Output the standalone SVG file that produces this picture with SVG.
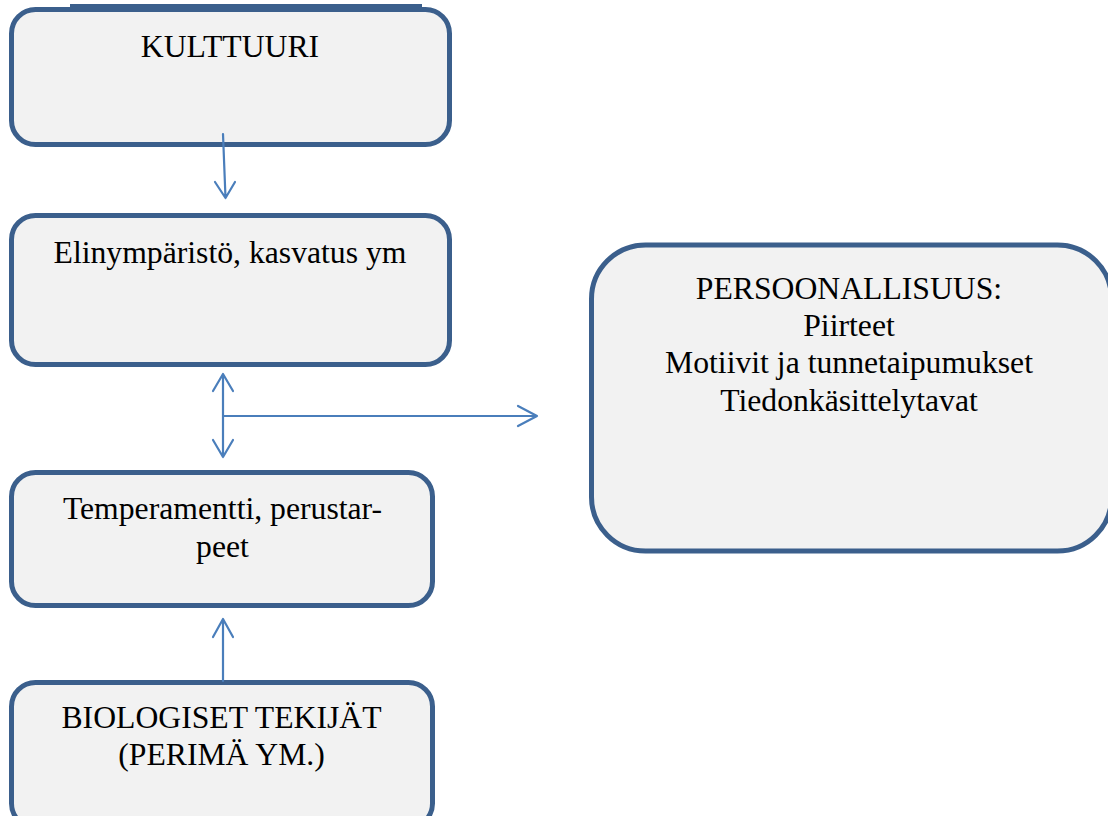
<svg xmlns="http://www.w3.org/2000/svg" width="1108" height="816" viewBox="0 0 1108 816">
<defs>
<style>
.box{fill:#F2F2F2;stroke:#3B5F8C;stroke-width:5}
.t{font-family:"Liberation Serif","Times New Roman",serif;font-size:31.7px;fill:#000;text-anchor:middle}
.c{fill:none;stroke:#4A7EBB;stroke-width:2.2;stroke-linecap:round;stroke-linejoin:round}
</style>
</defs>
<rect width="1108" height="816" fill="#fff"/>
<g id="kulttuuri">
<rect class="box" x="11.5" y="9.5" width="438" height="135" rx="24"/>
<rect x="70" y="4" width="352" height="5" fill="#3B5F8C"/>
<text class="t" x="230" y="57">KULTTUURI</text>
</g>
<g id="elinymparisto">
<rect class="box" x="11.5" y="215.5" width="438" height="149" rx="24"/>
<text class="t" x="230" y="263">Elinympäristö, kasvatus ym</text>
</g>
<g id="temperamentti">
<rect class="box" x="11.5" y="472.5" width="421" height="133" rx="24"/>
<text class="t" x="222.5" y="519">Temperamentti, perustar-</text>
<text class="t" x="222.5" y="557">peet</text>
</g>
<g id="biologiset">
<rect class="box" x="11.5" y="682.5" width="421" height="145" rx="24"/>
<text class="t" x="221.5" y="728">BIOLOGISET TEKIJÄT</text>
<text class="t" x="221.5" y="765">(PERIMÄ YM.)</text>
</g>
<g id="persoonallisuus">
<rect class="box" x="591.5" y="245" width="520" height="306" rx="54"/>
<text class="t" x="849" y="299">PERSOONALLISUUS:</text>
<text class="t" x="849" y="336">Piirteet</text>
<text class="t" x="849" y="373">Motiivit ja tunnetaipumukset</text>
<text class="t" x="849" y="411">Tiedonkäsittelytavat</text>
</g>
<g id="connectors">
<path class="c" d="M223 134 L225.5 198 M215 182 L225.5 198 L235 182"/>
<path class="c" d="M223 374 L223 457 M213 391 L223 374 L233 391 M213 440 L223 457 L233 440"/>
<path class="c" d="M223 416 L537 416 M518 406 L537 416 L518 426"/>
<path class="c" d="M223 681 L223 619 M213 637 L223 619 L233 637"/>
</g>
</svg>
